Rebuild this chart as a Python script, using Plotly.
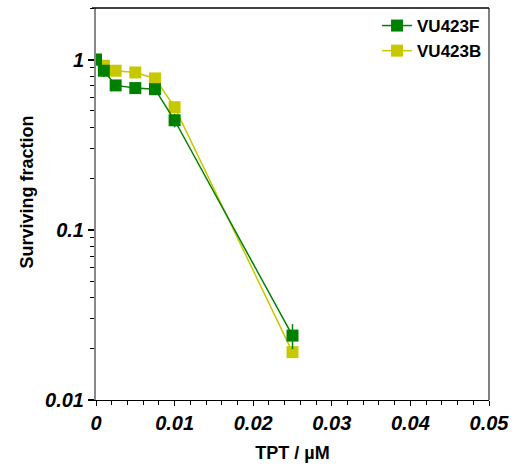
import plotly.graph_objects as go

# TPT dose (µM) and surviving fraction per cell line
dose = [0, 0.001, 0.0025, 0.005, 0.0075, 0.01, 0.025]
vu423f = [1.0, 0.86, 0.705, 0.68, 0.67, 0.44, 0.0239]
vu423f_err = [0.03, 0.07, 0.03, 0.05, 0.03, 0.04, 0.004]
vu423b = [1.0, 0.92, 0.86, 0.84, 0.775, 0.525, 0.0191]

x_ticks = [0, 0.01, 0.02, 0.03, 0.04, 0.05]
x_labels = ["0", "0.01", "0.02", "0.03", "0.04", "0.05"]
y_ticks = [0.01, 0.1, 1]
y_labels = ["0.01", "0.1", "1"]
y_minor = [m * d for d in (0.01, 0.1, 1) for m in range(2, 10)]

GREEN = "#008000"
YELLOW = "#c8c800"
FONT = "Liberation Sans, Arial, sans-serif"

fig = go.Figure()
fig.add_trace(go.Scatter(
    x=dose, y=vu423b, name="VU423B", mode="lines+markers", legendgroup="b",
    line=dict(color=YELLOW, width=1.5),
    marker=dict(symbol="square", size=12, color=YELLOW),
))
fig.add_trace(go.Scatter(
    x=dose, y=vu423f, name="VU423F", mode="lines+markers", legendgroup="f",
    line=dict(color=GREEN, width=1.5),
    marker=dict(symbol="square", size=12, color=GREEN),
    error_y=dict(type="data", array=vu423f_err, color=GREEN, thickness=1.5, width=0),
))

fig.update_layout(
    width=517, height=468,
    margin=dict(l=96, r=27, t=8, b=65),
    paper_bgcolor="white", plot_bgcolor="white",
    font=dict(family=FONT, color="black"),
    showlegend=True,
    legend=dict(
        x=0.995, y=1.0, xanchor="right", yanchor="top",
        traceorder="reversed", bgcolor="rgba(0,0,0,0)",
        font=dict(family=FONT, size=17, color="black", weight="bold"),
        itemwidth=30, tracegroupgap=4,
    ),
    xaxis=dict(
        range=[0, 0.05],
        tickvals=x_ticks, ticktext=x_labels,
        tickfont=dict(family=FONT, size=20, color="black", weight="bold", style="italic"),
        ticks="outside", ticklen=5, tickcolor="black", tickwidth=1,
        minor=dict(dtick=0.002, ticks="outside", ticklen=4, tickcolor="black", tickwidth=1),
        showline=True, linecolor="black", linewidth=1,
        showgrid=False, zeroline=False,
        title=dict(text="TPT / µM", standoff=13,
                   font=dict(family=FONT, size=18, color="black", weight="bold")),
    ),
    yaxis=dict(
        type="log", range=[-2, 0.303],
        tickvals=y_ticks, ticktext=y_labels,
        tickfont=dict(family=FONT, size=20, color="black", weight="bold", style="italic"),
        ticks="outside", ticklen=6, tickcolor="black", tickwidth=2,
        minor=dict(tickvals=y_minor, ticks="outside", ticklen=4, tickcolor="black",
                   tickwidth=1, showgrid=False),
        showline=True, linecolor="#888888", linewidth=2,
        showgrid=False, zeroline=False,
    ),
    annotations=[dict(
        text="Surviving fraction", textangle=-90,
        xref="paper", yref="paper", x=-0.175, y=0.53,
        xanchor="center", yanchor="middle", showarrow=False,
        font=dict(family=FONT, size=18, color="black", weight="bold"),
    )],
    shapes=[
        dict(type="line", xref="paper", yref="paper", x0=-0.01, x1=1, y0=1, y1=1,
             line=dict(color="black", width=1.5)),
        dict(type="line", xref="paper", yref="paper", x0=1, x1=1, y0=0, y1=1,
             line=dict(color="black", width=1)),
    ],
)

fig.write_html("out.html")
